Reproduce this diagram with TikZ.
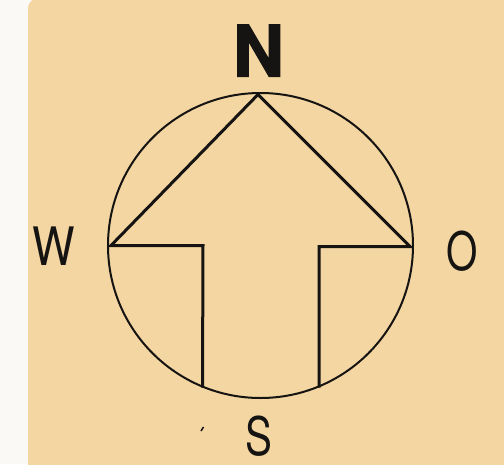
\documentclass[tikz,border=0pt]{standalone}
\usepackage{fontspec}
\setmainfont{TeX Gyre Heros}
\newfontfamily\heavyfont[FakeBold=1.6]{TeX Gyre Heros Bold}
\begin{document}
\begin{tikzpicture}[x=1pt,y=-1pt,
  lbl/.style={inner sep=0pt, anchor=base, text=ink, font=\fontsize{53}{53}\selectfont},
  bold lbl/.style={inner sep=0pt, anchor=base, text=ink, font=\fontsize{71}{71}\heavyfont},
  arrowline/.style={draw=ink, line width=3pt, line join=miter},
  ring/.style={circle, draw=ink, line width=2pt, minimum size=305pt, inner sep=0pt}]
\definecolor{paper}{RGB}{244,214,162}
\definecolor{strip}{RGB}{250,249,246}
\definecolor{ink}{RGB}{22,20,18}
\useasboundingbox (0,0) rectangle (504,464);
\fill[strip] (0,0) rectangle (504,464);
\fill[paper] (28,465) [rounded corners=9pt] -- (28,-1) [sharp corners] -- (505,-1) -- (505,465) -- cycle;
\node[ring] (c) at (260.5,245.5) {};
\coordinate (tip) at (258,94.5);
\coordinate (w) at (111,245.5);
\coordinate (l1) at (203,245.5);
\coordinate (l2) at (202.5,387.5);
\coordinate (o) at (410,246.5);
\coordinate (r1) at (319,246.5);
\coordinate (r2) at (319,387.5);
\draw[arrowline] (l2) -- (l1) -- (w) -- (tip) -- (o) -- (r1) -- (r2);
\node[bold lbl] (N) at (258.5,76.5) {N};
\node[lbl, xscale=0.85] (W) at (54,265) {W};
\node[lbl, xscale=0.76] (O) at (462.5,270) {O};
\node[lbl, xscale=0.76] (S) at (259,455.5) {S};
\coordinate (t1) at (201,431);
\coordinate (t2) at (203.5,427);
\draw[draw=ink, line width=1.5pt] (t1) -- (t2);
\end{tikzpicture}
\end{document}
